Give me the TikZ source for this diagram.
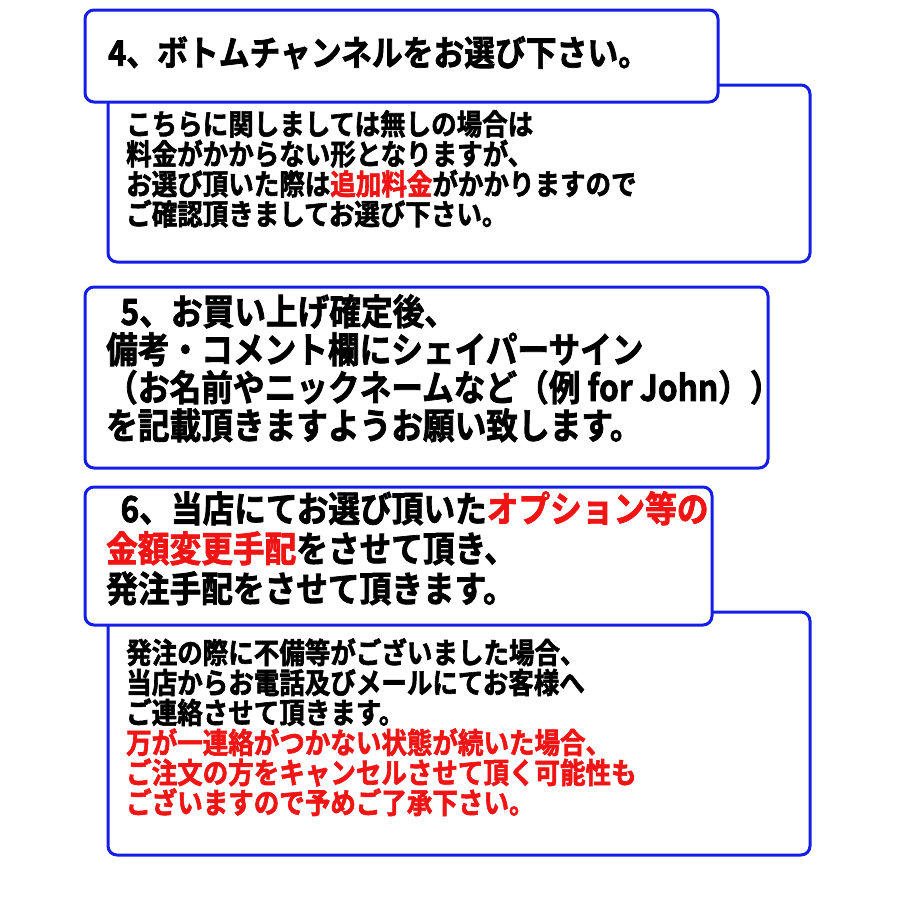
\documentclass[tikz,border=0pt]{standalone}
\usepackage{fontspec}
\setmainfont{Noto Sans CJK JP}[BoldFont={* Bold},BoldFeatures={FakeBold=2},FakeStretch=0.88]
\definecolor{bb}{RGB}{20,30,230}
\definecolor{rr}{RGB}{240,20,20}
\tikzset{box/.style={draw=bb,line width=3pt,rounded corners=9pt,fill=white},
 txt/.style={anchor=north west,align=left,inner sep=0pt,font=\bfseries}}
\begin{document}
\begin{tikzpicture}[x=1pt,y=-1pt]
\useasboundingbox (0,0) rectangle (900,900);
\path[box] (108,85) rectangle (810,262);
\path[box] (85,10) rectangle (718,102);
\path[box] (85,287) rectangle (768,468);
\path[box] (108,612) rectangle (810,855);
\path[box] (85,487) rectangle (712,625);
\node[txt,font=\bfseries\fontsize{35}{38}\selectfont] (h4) at (108,36) {4、ボトムチャンネルをお選び下さい。};
\node[txt,font=\bfseries\fontsize{29}{30}\selectfont] (b4) at (126,110) {こちらに関しましては無しの場合は\\料金がかからない形となりますが、\\お選び頂いた際は\textcolor{rr}{追加料金}がかかりますので\\ご確認頂きましてお選び下さい。};
\node[txt,font=\bfseries\fontsize{36}{38}\selectfont] (b5) at (106,294) {\ \ 5、お買い上げ確定後、\\備考・コメント欄にシェイパーサイン\\（お名前やニックネームなど（例 for John））\\を記載頂きますようお願い致します。};
\node[txt,font=\bfseries\fontsize{36}{40}\selectfont] (h6) at (106,491) {\ \ 6、当店にてお選び頂いた\textcolor{rr}{オプション等の}\\\textcolor{rr}{金額変更手配}をさせて頂き、\\発注手配をさせて頂きます。};
\node[txt,font=\bfseries\fontsize{29}{30}\selectfont] (b6) at (126,638) {発注の際に不備等がございました場合、\\当店からお電話及びメールにてお客様へ\\ご連絡させて頂きます。\\\textcolor{rr}{万が一連絡がつかない状態が続いた場合、}\\\textcolor{rr}{ご注文の方をキャンセルさせて頂く可能性も}\\\textcolor{rr}{ございますので予めご了承下さい。}};
\end{tikzpicture}
\end{document}
